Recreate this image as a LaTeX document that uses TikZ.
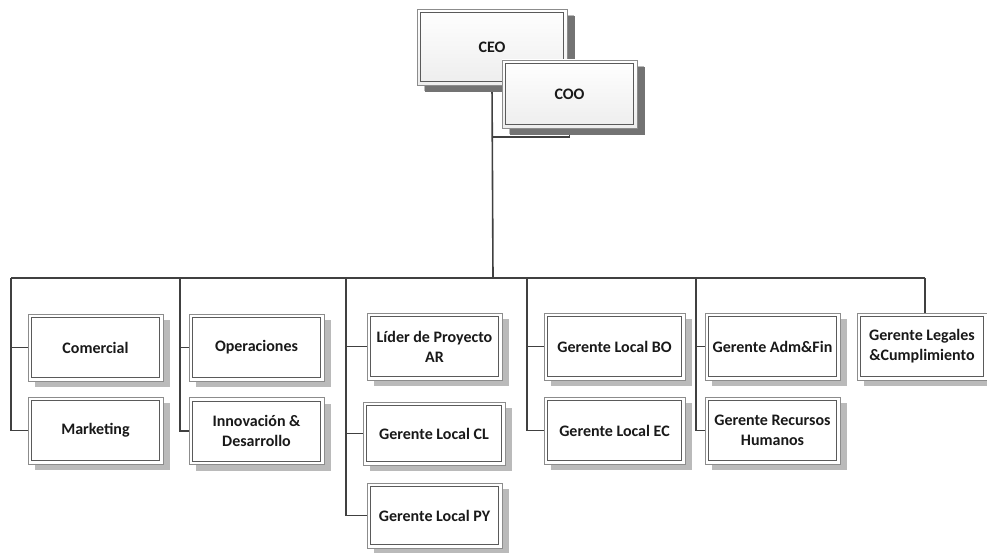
\documentclass[tikz,border=0pt]{standalone}
\usepackage{fontspec}
\setmainfont{Carlito}
\usepackage{tikz}
\usetikzlibrary{positioning,shadows,calc,backgrounds}
\definecolor{orgLine}{HTML}{404040}
\definecolor{orgOuter}{HTML}{8C8C8C}
\definecolor{orgInner}{HTML}{5A5A5A}
\tikzset{
  org/box/.style={draw=orgOuter, line width=0.8pt, fill=white, minimum width=135pt, minimum height=67pt,
    align=center, inner sep=2pt, font=\fontsize{16}{20}\selectfont\bfseries, text=black!90,
    drop shadow={shadow xshift=7pt, shadow yshift=-6pt, fill=black!27, opacity=1},
    path picture={\draw[orgInner, line width=0.8pt]
      ([shift={(3.5pt,-3.5pt)}]path picture bounding box.north west) rectangle
      ([shift={(-3.5pt,3.5pt)}]path picture bounding box.south east);}},
  org/head/.style={org/box, top color=white, bottom color=black!7,
    drop shadow={shadow xshift=8pt, shadow yshift=-7pt, fill=black!55, opacity=1}},
  org/line/.style={draw=orgLine, line width=1.6pt}
}

\begin{document}
\begin{tikzpicture}[x=1pt, y=-1pt]
  \useasboundingbox (0,0) rectangle (987,553);
  % top
  \node[org/head, minimum width=150pt, minimum height=76pt] (ceo) at (492,47) {CEO};
  \node[org/head, minimum height=68pt] (coo) at (569.5,94) {COO};
  % first column pair
  \node[org/box] (com) at (95.5,347.5) {Comercial};
  \node[org/box] (mkt) at (95.5,430.5) {Marketing};
  \node[org/box] (ope) at (256.5,347.5) {Operaciones};
  \node[org/box] (inn) at (256.5,431) {Innovación \&\\Desarrollo};
  % local managers
  \node[org/box] (lid) at (434.5,346.5) {Líder de Proyecto\\AR};
  \node[org/box, minimum width=142pt, minimum height=63pt] (gcl) at (434,433.5) {Gerente Local CL};
  \node[org/box, minimum height=65pt] (gpy) at (434.5,515.5) {Gerente Local PY};
  \node[org/box, minimum width=141pt] (gbo) at (614.5,346.5) {Gerente Local BO};
  \node[org/box, minimum width=141pt] (gec) at (614.5,430.5) {Gerente Local EC};
  % staff
  \node[org/box] (adm) at (772.5,346.5) {Gerente Adm\&Fin};
  \node[org/box] (rrh) at (772.5,430.5) {Gerente Recursos\\Humanos};
  \node[org/box, minimum width=130pt] (leg) at (922,346.5) {Gerente Legales\\\&Cumplimiento};

  \coordinate (bus) at (493,278);
  \coordinate (cooj) at (493,137);
  \coordinate (b1) at (11,278);
  \coordinate (b2) at (180,278);
  \coordinate (b3) at (346,278);
  \coordinate (b4) at (527,278);
  \coordinate (b5) at (696,278);
  \coordinate (b6) at (925,278);

  \begin{scope}[on background layer]
    \draw[org/line] (ceo.south) -- (bus);
    \draw[org/line] (coo.south) |- (cooj);
    \draw[org/line] (b1) -- (b6);
    \draw[org/line] (b1) |- (com.west);
    \draw[org/line] (b1) |- (mkt.west);
    \draw[org/line] (b2) |- (ope.west);
    \draw[org/line] (b2) |- (inn.west);
    \draw[org/line] (b3) |- (lid.west);
    \draw[org/line] (b3) |- (gcl.west);
    \draw[org/line] (b3) |- (gpy.west);
    \draw[org/line] (b4) |- (gbo.west);
    \draw[org/line] (b4) |- (gec.west);
    \draw[org/line] (b5) |- (adm.west);
    \draw[org/line] (b5) |- (rrh.west);
    \draw[org/line] (b6) -- (b6 |- leg.north);
  \end{scope}
\end{tikzpicture}
\end{document}
